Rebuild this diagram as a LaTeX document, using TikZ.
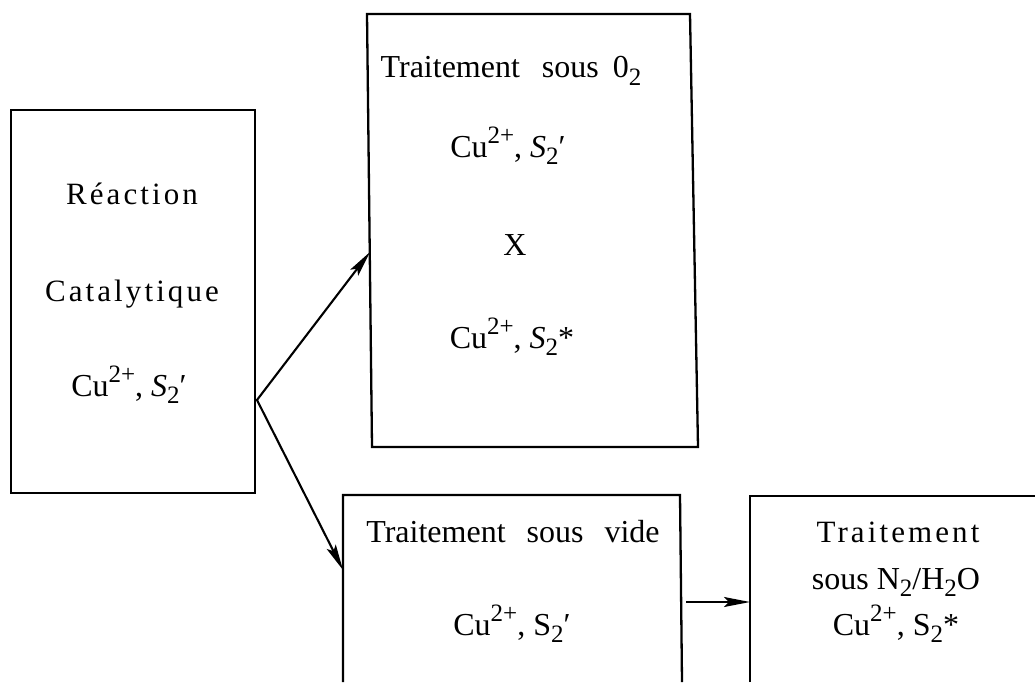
\documentclass[tikz,border=0pt]{standalone}
\usepackage{fontspec}
\setmainfont{Liberation Serif}
\newfontfamily\spacedfont{Liberation Serif}[LetterSpace=10]
\usetikzlibrary{arrows.meta}
% raised / lowered indices set almost at full size
\newcommand\upidx[1]{\raisebox{0.42em}{\fontsize{25}{25}\selectfont #1}}
\newcommand\dnidx[1]{\raisebox{-0.22em}{\fontsize{25}{25}\selectfont #1}}
\newcommand\prm{\char"2032}
\begin{document}
\begin{tikzpicture}[x=1pt,y=-1pt,
  frame/.style={line width=2.3pt, line join=miter},
  link/.style={line width=2.1pt, -{Stealth[length=26pt,width=10pt,inset=5pt]}},
  lbl/.style={anchor=base, inner sep=0pt, font=\fontsize{32}{38}\selectfont},
  wide/.style={anchor=base, inner sep=0pt, font=\fontsize{31}{36}\spacedfont}]
\useasboundingbox (0,0) rectangle (1035,682);

% boxes
\draw[frame] (11,110) rectangle (255,493);
\draw[frame] (367,14) -- (690,14) -- (698,447) -- (372,447) -- cycle;
\draw[frame] (343,682) -- (343,495) -- (680,495) -- (682,682);
\draw[frame] (750,682) -- (750,496) -- (1035,496);

% connector ends
\coordinate (fork) at (257,400);
\coordinate (oxin) at (370,252);
\coordinate (vacin) at (343,570);
\coordinate (vacout) at (686,602);
\coordinate (wetin) at (750,602);

% left box
\node[wide] (r1) at (132,204) {Réaction};
\node[wide] (r2) at (132,301) {Catalytique};
\node[lbl] (r3) at (129,396) {Cu\upidx{2+}, \textit{S}\dnidx{2}\prm};

% oxygen treatment
\node[lbl] (o1) at (511,78) {Traitement\hspace{22pt}sous\hspace{14pt}0\dnidx{2}};
\node[lbl] (o2) at (508,157) {Cu\upidx{2+}, \textit{S}\dnidx{2}\prm};
\node[lbl] (o3) at (515,255) {X};
\node[lbl] (o4) at (512,348) {Cu\upidx{2+}, \textit{S}\dnidx{2}*};

% vacuum treatment
\node[lbl] (v1) at (513,542) {Traitement\hspace{21pt}sous\hspace{21pt}vide};
\node[lbl] (v2) at (512,635) {Cu\upidx{2+}, S\dnidx{2}\prm};

% N2/H2O treatment
\node[wide] (w1) at (898,542) {Traitement};
\node[lbl] (w2) at (896,589) {sous N\dnidx{2}/H\dnidx{2}O};
\node[lbl] (w3) at (896,635) {Cu\upidx{2+}, S\dnidx{2}*};

% arrows
\draw[link] (fork) -- (oxin);
\draw[link] (fork) -- (vacin);
\draw[link] (vacout) -- (wetin);
\draw[line width=2.3pt] (255,400) -- (fork);
\end{tikzpicture}
\end{document}
